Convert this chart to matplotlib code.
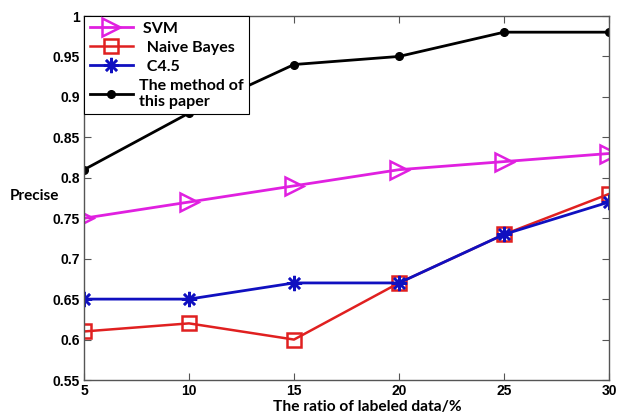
import matplotlib
matplotlib.use("Agg")
import matplotlib.pyplot as plt

ratio = [5, 10, 15, 20, 25, 30]
svm = [0.75, 0.77, 0.79, 0.81, 0.82, 0.83]
naive_bayes = [0.61, 0.62, 0.60, 0.67, 0.73, 0.78]
c45 = [0.65, 0.65, 0.67, 0.67, 0.73, 0.77]
method = [0.81, 0.88, 0.94, 0.95, 0.98, 0.98]
yticks = [0.55, 0.6, 0.65, 0.7, 0.75, 0.8, 0.85, 0.9, 0.95, 1.0]
ytick_labels = ["0.55", "0.6", "0.65", "0.7", "0.75", "0.8", "0.85", "0.9", "0.95", "1"]

plt.rcParams['font.family'] = ['Liberation Sans', 'DejaVu Sans']
LABEL_FONT = ['Lato', 'DejaVu Sans']

fig = plt.figure(figsize=(6.17, 4.16), dpi=100)
W, H = 617, 416
ax = fig.add_axes([84 / W, 1 - 380 / H, (609 - 84) / W, (380 - 16) / H])

ax.plot(ratio, svm, color='#e020e0', lw=2, marker='>', ms=13, mfc='none', mew=1.8, label=' SVM')
ax.plot(ratio, naive_bayes, color='#e02020', lw=1.8, marker='s', ms=10, mfc='none', mew=1.8, label='  Naive Bayes')
ax.plot(ratio, c45, color='#1010c0', lw=2, marker=(8, 2, 0), ms=11, mew=1.8, label='  C4.5')
ax.plot(ratio, method, color='black', lw=2, marker='o', ms=5.5, label='The method of\nthis paper')

ax.set_xlim(5, 30)
ax.set_ylim(0.55, 1.0)
ax.set_xticks(ratio)
ax.set_xticklabels([str(r) for r in ratio], fontweight='bold', fontsize=10)
ax.set_yticks(yticks)
ax.set_yticklabels(ytick_labels, fontweight='bold', fontsize=10)
ax.tick_params(direction='in', length=5, top=True, right=True, width=0.8, color='#555555', pad=3)
for s in ax.spines.values():
    s.set_color('#555555')
    s.set_linewidth(1)

fig.text(10 / W, 1 - 196 / H, 'Precise', fontsize=11, fontweight='bold', ha='left', va='center',
         family=LABEL_FONT)
fig.text(367 / W, 1 - 407 / H, 'The ratio of labeled data/%', fontsize=11.2, fontweight='bold',
         ha='center', va='center', family=LABEL_FONT)

leg = ax.legend(loc='upper left', bbox_to_anchor=(0, 1), fancybox=False, framealpha=1,
                edgecolor='black', borderaxespad=0, handlelength=2.7, handletextpad=0.4,
                labelspacing=0.3, borderpad=0.35,
                prop={'family': LABEL_FONT, 'weight': 'bold', 'size': 11.5})
leg.get_frame().set_linewidth(0.8)
leg.set_zorder(5)

fig.savefig('out.png', dpi=100)
